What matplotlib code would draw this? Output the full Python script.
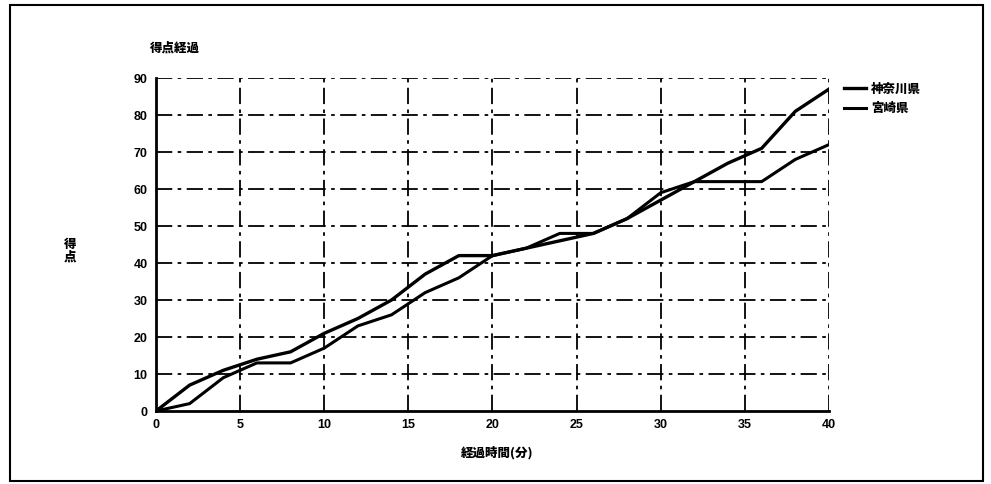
"""得点経過 chart."""

import matplotlib
matplotlib.use("Agg")
import matplotlib.pyplot as plt
from matplotlib.patches import Rectangle

plt.rcParams["font.family"] = ["Noto Sans CJK JP", "DejaVu Sans"]

minutes = [0, 2, 4, 6, 8, 10, 12, 14, 16, 18, 20, 22, 24, 26, 28, 30, 32, 34, 36, 38, 40]
kanagawa = [0, 7, 11, 14, 16, 21, 25, 30, 37, 42, 42, 44, 46, 48, 52, 57, 62, 67, 71, 81, 87]
miyazaki = [0, 2, 9, 13, 13, 17, 23, 26, 32, 36, 42, 44, 48, 48, 52, 59, 62, 62, 62, 68, 72]

x_ticks = [0, 5, 10, 15, 20, 25, 30, 35, 40]
y_ticks = [0, 10, 20, 30, 40, 50, 60, 70, 80, 90]

fig = plt.figure(figsize=(9.91, 4.84), dpi=100)
ax = fig.add_axes([0.1574, 0.1508, 0.6791, 0.688])

# outer frame of the scanned figure
fig.patches.append(Rectangle((10 / 991, 3 / 484), 973 / 991, 476 / 484,
                             transform=fig.transFigure, fill=False,
                             edgecolor="black", linewidth=1.5))

grid_style = (0, (9, 3, 2, 3))
for xv in x_ticks[1:]:
    ax.axvline(xv, color="black", linewidth=1.3, linestyle=grid_style, zorder=1)
for yv in y_ticks[1:]:
    ax.axhline(yv, color="black", linewidth=1.3, linestyle=grid_style, zorder=1)

ax.plot(minutes, kanagawa, color="black", linewidth=2.4, label="神奈川県", zorder=3)
ax.plot(minutes, miyazaki, color="black", linewidth=2.2, label="宮崎県", zorder=3)

ax.set_xlim(0, 40)
ax.set_ylim(0, 90)
ax.set_xticks(x_ticks)
ax.set_yticks(y_ticks)
ax.tick_params(length=0, pad=6, labelsize=9)
for lbl in ax.get_xticklabels() + ax.get_yticklabels():
    lbl.set_fontweight("bold")
    lbl.set_family(["Liberation Sans", "DejaVu Sans"])

ax.spines["top"].set_visible(False)
ax.spines["right"].set_visible(False)
ax.spines["left"].set_linewidth(2)
ax.spines["bottom"].set_linewidth(2)

fig.text(150 / 991, 1 - 47 / 484, "得点経過", fontsize=9, fontweight="heavy",
         va="center", ha="left")
fig.text(497 / 991, 1 - 452 / 484, "経過時間(分)", fontsize=9, fontweight="heavy",
         style="italic", va="center", ha="center")
fig.text(70 / 991, 1 - 250 / 484, "得\n点", fontsize=9, fontweight="heavy",
         style="italic", va="center", ha="center", linespacing=1.0)

leg = ax.legend(loc="upper left", bbox_to_anchor=(1.005, 1.02), frameon=False,
                handlelength=1.8, handletextpad=0.4, labelspacing=0.6,
                prop={"size": 9, "weight": "heavy"})

fig.savefig("out.png", dpi=100)
plt.close(fig)
